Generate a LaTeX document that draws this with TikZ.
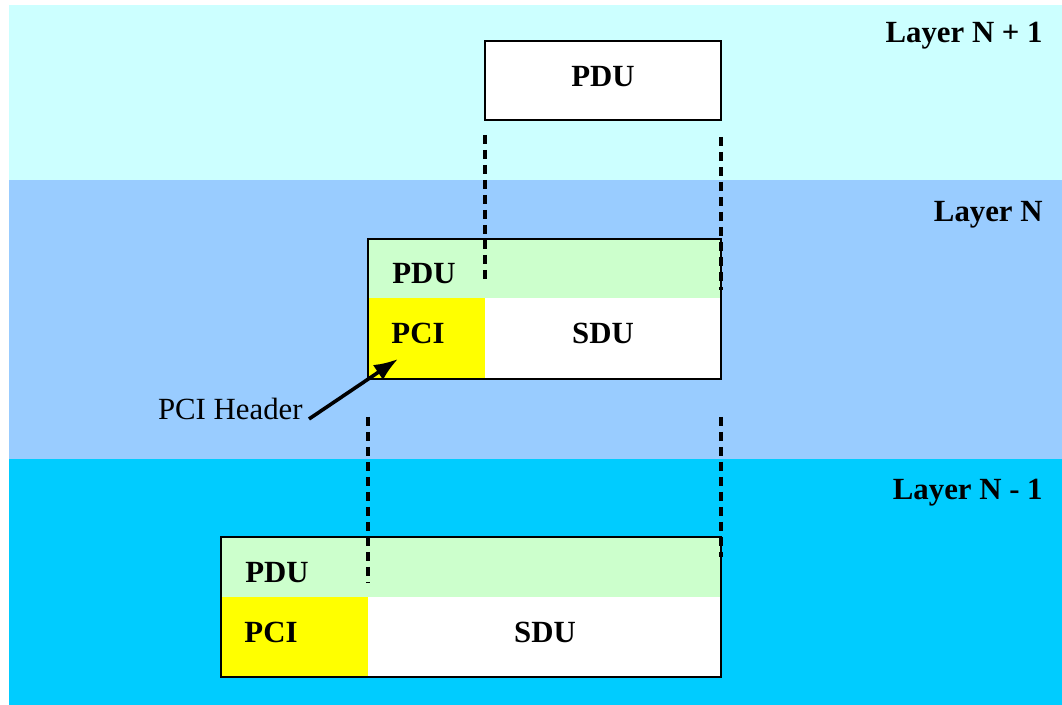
\documentclass[tikz,border=0pt]{standalone}
\usepackage{fontspec}
\setmainfont{Liberation Serif}
\usetikzlibrary{arrows.meta,calc}

\definecolor{bandtop}{HTML}{CCFFFF}
\definecolor{bandmid}{HTML}{99CCFF}
\definecolor{bandlow}{HTML}{00CCFF}
\definecolor{pdugreen}{HTML}{CCFFCC}
\definecolor{pciyellow}{HTML}{FFFF00}

\begin{document}
\begin{tikzpicture}[>=latex, x=0.5pt, y=-0.5pt]

\tikzstyle{lbl}=[font=\fontsize{15.4}{18}\selectfont\bfseries, inner sep=0]
\tikzstyle{plain}=[font=\fontsize{15.4}{18}\selectfont, inner sep=0]
\tikzstyle{cell}=[inner sep=0, outer sep=0]
\tikzstyle{frame}=[draw, line width=1pt]
\tikzstyle{guide}=[line width=1.6pt, dash pattern=on 4.5pt off 3pt]
\tikzstyle{pointer}=[-{Latex[length=12pt, width=9pt]}, line width=1.8pt]

% --- page and layer bands ---
\useasboundingbox (0,0) rectangle (1062,705);
\fill[white] (0,0) rectangle (1062,705);
\fill[bandtop] (9,5) rectangle (1062,180);
\fill[bandmid] (9,180) rectangle (1062,459);
\fill[bandlow] (9,459) rectangle (1062,705);

\node[lbl, anchor=east] (layerup) at (1043,36) {Layer N + 1};
\node[lbl, anchor=east] (layern) at (1043,215) {Layer N};
\node[lbl, anchor=east] (layerdown) at (1043,493) {Layer N - 1};

% --- layer N+1 ---
\node[cell, frame, fill=white, minimum width=118pt, minimum height=39.5pt] (pdutop) at (603,80.5) {};
\node[lbl] (pdutoptxt) at (603,77) {PDU};

% --- layer N ---
\node[cell, fill=pdugreen, minimum width=176.5pt, minimum height=29.5pt] (pdun) at (544.5,268.5) {};
\node[cell, fill=pciyellow, minimum width=58.5pt, minimum height=40.5pt] (pcin) at (426.5,338.5) {};
\node[cell, fill=white, minimum width=118pt, minimum height=40.5pt] (sdun) at (603,338.5) {};
\draw[frame] (pdun.north west) rectangle (sdun.south east);
\node[lbl] (pduntxt) at (424,274) {PDU};
\node[lbl] (pcintxt) at (418,333) {PCI};
\node[lbl] (sduntxt) at (603,333) {SDU};

% --- layer N-1 ---
\node[cell, fill=pdugreen, minimum width=250pt, minimum height=30pt] (pdulow) at (471,567) {};
\node[cell, fill=pciyellow, minimum width=73.5pt, minimum height=40pt] (pcilow) at (294.5,637) {};
\node[cell, fill=white, minimum width=176.5pt, minimum height=40pt] (sdulow) at (544.5,637) {};
\draw[frame] (pdulow.north west) rectangle (sdulow.south east);
\node[lbl] (pdulowtxt) at (277,573) {PDU};
\node[lbl] (pcilowtxt) at (271,632) {PCI};
\node[lbl] (sdulowtxt) at (545,632) {SDU};

% --- dashed guides ---
\coordinate (g1) at ($(pdutop.south west)+(0,15)$);
\coordinate (g2) at ($(pdutop.south east)+(0,17)$);
\coordinate (g3) at ($(pcin.south west)+(0,38)$);
\coordinate (g4) at ($(sdun.south east)+(0,38)$);
\draw[guide] (g1) -- (g1 |- pduntxt.south);
\draw[guide] (g2) -- ($(g2 |- pdun.south)+(0,-8)$);
\draw[guide] (g3) -- ($(g3 |- pdulowtxt.south)+(0,-1)$);
\draw[guide] (g4) -- ($(g4 |- pdulow.north)+(0,20)$);

% --- header pointer ---
\node[plain, anchor=base east] (hdr) at (303,420) {PCI Header};
\draw[pointer] ([shift={(6,-1)}]hdr.base east) -- ($(pcin.south west)+(30,-20)$);

\end{tikzpicture}
\end{document}
